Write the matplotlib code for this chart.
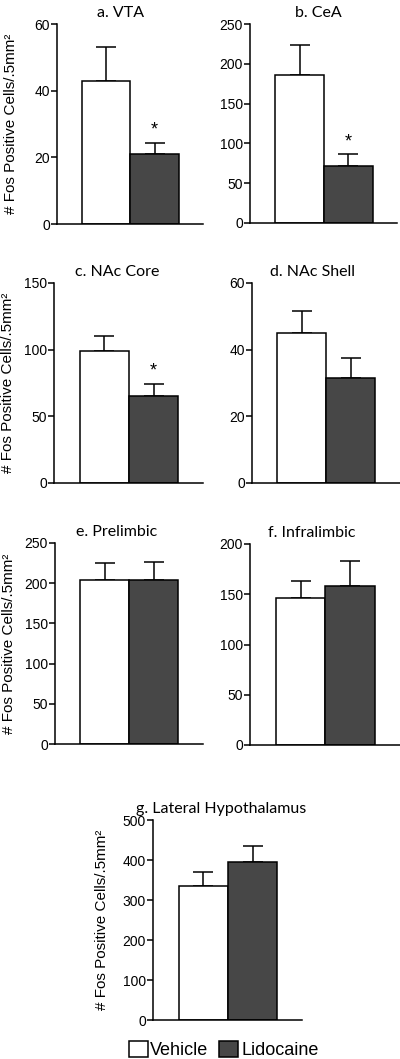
import matplotlib
matplotlib.use('Agg')
import matplotlib.pyplot as plt
from matplotlib.patches import Patch

titles   = ['a. VTA', 'b. CeA', 'c. NAc Core', 'd. NAc Shell',
            'e. Prelimbic', 'f. Infralimbic', 'g. Lateral Hypothalamus']
vehicle  = [43, 185.5, 99, 45, 204.5, 146.6, 335]
veh_sem  = [10, 38.5, 11, 6.5, 20.5, 16.2, 34]
lidocaine = [21, 71.6, 65, 31.6, 203.5, 158.5, 394]
lido_sem = [3.4, 14.7, 9.5, 5.9, 22.3, 24.9, 42]
signif   = [True, True, True, False, False, False, False]
y_max    = [60, 250, 150, 60, 250, 200, 500]
y_step   = [20, 50, 50, 20, 50, 50, 100]
groups   = ['Vehicle', 'Lidocaine']

DARK = '#474747'
W, H = 400, 1059

# axes boxes in pixels: left, top, right, bottom
boxes = [(57, 24, 203, 224), (250, 24, 397, 223),
         (54, 283, 203, 483), (252, 283, 400, 483),
         (55, 543, 203, 744), (250, 544, 400, 745),
         (153, 820, 302, 1020)]
title_x = [121, 318, 117, 312, 117, 312, 221]

fig = plt.figure(figsize=(W / 100, H / 100), dpi=100)

for i, (l, t, r, b) in enumerate(boxes):
    ax = fig.add_axes([l / W, 1 - b / H, (r - l) / W, (b - t) / H])
    ax.bar([0, 1], [vehicle[i], lidocaine[i]], width=1.0,
           color=['white', DARK], edgecolor='black', linewidth=1.1, zorder=2)
    for x, v, e in [(0, vehicle[i], veh_sem[i]), (1, lidocaine[i], lido_sem[i])]:
        ax.errorbar([x], [v], yerr=[[0], [e]], fmt='none', ecolor='black',
                    elinewidth=1.1, capsize=7, capthick=1.1, zorder=1)
    if signif[i]:
        top = lidocaine[i] + lido_sem[i]
        ax.annotate('*', (1, top), xytext=(0, 3), textcoords='offset points',
                    ha='center', va='bottom', fontsize=13, family='Liberation Sans')
    ax.set_xlim(-1.02, 2.0)
    ax.set_ylim(0, y_max[i])
    ax.set_yticks(range(0, y_max[i] + 1, y_step[i]))
    ax.set_xticks([])
    for s in ['top', 'right']:
        ax.spines[s].set_visible(False)
    for s in ['left', 'bottom']:
        ax.spines[s].set_linewidth(1.1)
    ax.tick_params(axis='y', length=4, width=1.1, pad=1, labelsize=10)
    for lab in ax.get_yticklabels():
        lab.set_family('Liberation Sans')
    ax.set_title(titles[i], fontsize=11.5, family='Lato', pad=5,
                 x=(title_x[i] - l) / (r - l))
    if i in (0, 2, 4, 6):
        ax.set_ylabel('# Fos Positive Cells/.5mm²', fontsize=11,
                      family='Liberation Sans')
        off = 39 if i != 6 else 44
        ax.yaxis.set_label_coords(-off / (r - l), 0.5)

handles = [Patch(facecolor='white', edgecolor='black', linewidth=1.1),
           Patch(facecolor=DARK, edgecolor='black', linewidth=1.1)]
fig.legend(handles, groups, loc='lower center', bbox_to_anchor=(0.559, -0.007),
           ncol=2, frameon=False, handlelength=1.05, handleheight=1.05,
           handletextpad=0.15, columnspacing=0.6, borderaxespad=0,
           prop={'family': 'Liberation Sans', 'size': 13})

fig.savefig('out.png', dpi=100)
